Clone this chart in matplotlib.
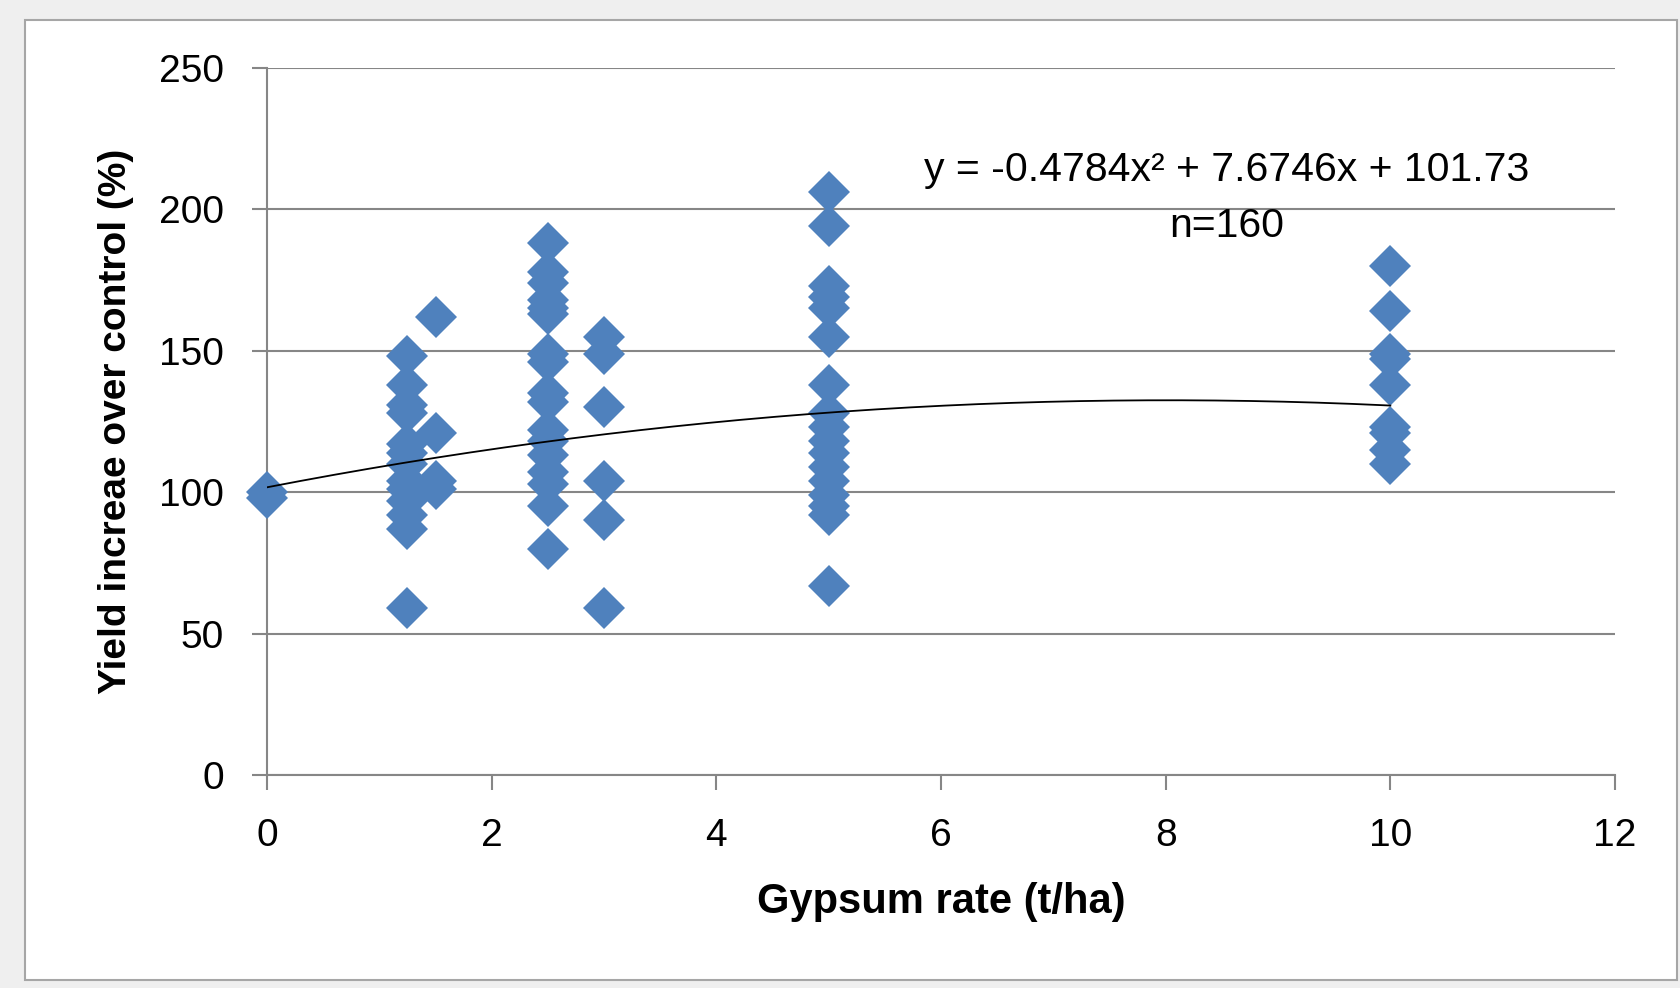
import numpy as np
import matplotlib
matplotlib.use("Agg")
import matplotlib.pyplot as plt
from matplotlib.patches import Rectangle

plt.rcParams['font.family'] = ['Liberation Sans', 'DejaVu Sans']

# yield increase over control (%), grouped by gypsum rate (t/ha)
rates = [0, 1.25, 1.5, 2.5, 3, 5, 10]
yields = [
    [100, 98],
    [148, 138, 131, 128, 117, 114, 110, 104, 101, 97, 92, 87, 59],
    [162, 121, 104, 101],
    [188, 178, 174, 168, 165, 163, 149, 146, 135, 132, 122, 118, 113, 107, 103, 95, 80],
    [155, 149, 130, 104, 90, 59],
    [206, 194, 173, 169, 165, 155, 138, 128, 123, 118, 114, 109, 104, 99, 95, 92, 67],
    [180, 164, 149, 147, 138, 123, 121, 115, 110],
]

# quadratic trend line as given on the chart
coef = [-0.4784, 7.6746, 101.73]
n_obs = 160

x = np.concatenate([[r] * len(v) for r, v in zip(rates, yields)])
y = np.concatenate(yields)

W, H = 1680, 988
fig = plt.figure(figsize=(W / 100, H / 100), dpi=100)
fig.patch.set_facecolor('#EFEFEF')
# chart-area frame
fig.add_artist(Rectangle((25 / W, 8 / H), 1652 / W, 960 / H, transform=fig.transFigure,
                         facecolor='white', edgecolor='#A6A6A6', lw=1.5, zorder=0))

ax = fig.add_axes([267 / W, 1 - 775 / H, 1348 / W, 707 / H])
ax.set_facecolor('none')

grey = '#868686'
ax.plot(x, y, linestyle='none', marker='D', markersize=21, color='#4F81BD',
        markeredgewidth=0, clip_on=False, zorder=3)

xt = np.linspace(0, 10, 200)
ax.plot(xt, np.polyval(coef, xt), color='black', lw=1.3, zorder=4)

ax.set_xlim(0, 12)
ax.set_ylim(0, 250)
ax.set_xticks(range(0, 13, 2))
ax.set_yticks(range(0, 251, 50))
ax.yaxis.grid(True, color=grey, lw=1.5)
ax.set_axisbelow(True)

for s in ['top', 'right']:
    ax.spines[s].set_visible(False)
for s in ['left', 'bottom']:
    ax.spines[s].set_color(grey)
    ax.spines[s].set_linewidth(1.5)

ax.tick_params(axis='both', direction='out', length=11, width=1.5, color=grey,
               labelsize=28, pad=20)

ax.set_xlabel('Gypsum rate (t/ha)', fontsize=30, fontweight='bold')
ax.set_ylabel('Yield increae over control (%)', fontsize=28, fontweight='bold')
ax.xaxis.set_label_coords(0.5, -0.151)
ax.xaxis.label.set_va('top')
ax.yaxis.set_label_coords(-0.112, 0.5)
ax.yaxis.label.set_va('center')

ax.text(8.54, 214, 'y = -0.4784x\u00b2 + 7.6746x + 101.73', fontsize=29.5,
        ha='center', va='center')
ax.text(8.54, 194, 'n=%d' % n_obs, fontsize=29.5, ha='center', va='center')

fig.savefig('out.png', dpi=100)
